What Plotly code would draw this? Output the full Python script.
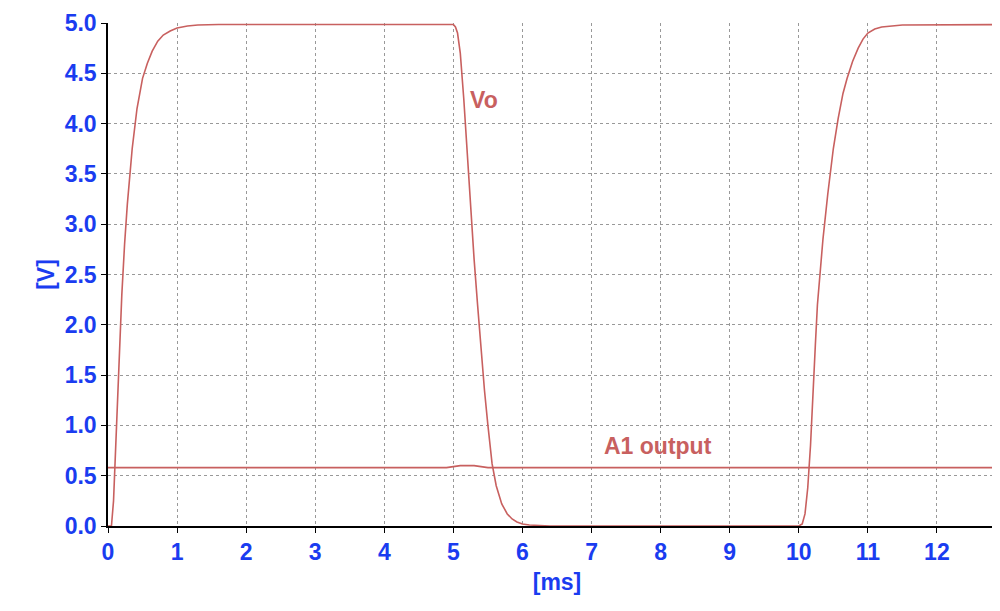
import plotly.graph_objects as go

vo_t = [0, 0.05, 0.08, 0.1, 0.13, 0.17, 0.2, 0.24, 0.28, 0.35, 0.42, 0.5, 0.57, 0.64, 0.72, 0.8, 0.9, 1.0, 1.15, 1.3, 1.6, 5.0, 5.03, 5.06, 5.1, 5.15, 5.2, 5.25, 5.3, 5.35, 5.4, 5.45, 5.5, 5.56, 5.62, 5.7, 5.78, 5.85, 5.92, 6.0, 6.1, 6.2, 6.4,
        10.0, 10.05, 10.09, 10.13, 10.17, 10.2, 10.24, 10.27, 10.31, 10.35, 10.42, 10.5, 10.57, 10.64, 10.7, 10.78, 10.86, 10.93, 11.0, 11.1, 11.2, 11.5, 13.0]
vo_v = [0, 0.0, 0.25, 0.6, 1.2, 1.8, 2.3, 2.8, 3.2, 3.75, 4.15, 4.45, 4.6, 4.72, 4.82, 4.88, 4.92, 4.95, 4.97, 4.98, 4.985, 4.985, 4.96, 4.9, 4.7, 4.25, 3.7, 3.15, 2.65, 2.2, 1.75, 1.35, 1.0, 0.62, 0.4, 0.22, 0.12, 0.07, 0.04, 0.02, 0.01, 0.005, 0,
        0, 0.02, 0.12, 0.38, 0.8, 1.3, 1.8, 2.2, 2.55, 2.85, 3.3, 3.75, 4.05, 4.3, 4.45, 4.62, 4.75, 4.84, 4.9, 4.94, 4.96, 4.98, 4.985]
a1_t = [0, 4.9, 5.0, 5.1, 5.3, 5.5, 10.0, 13.0]
a1_v = [0.58, 0.58, 0.59, 0.6, 0.6, 0.58, 0.58, 0.58]

x_ticks = list(range(0, 13))
y_ticks = [i * 0.5 for i in range(11)]

red = "#c8605f"
blue = "#1a3cf0"
fig = go.Figure()
fig.add_trace(go.Scatter(x=vo_t, y=vo_v, mode="lines", line=dict(color=red, width=1.6)))
fig.add_trace(go.Scatter(x=a1_t, y=a1_v, mode="lines", line=dict(color=red, width=1.6)))
fig.add_annotation(x=5.45, y=4.23, text="<b>Vo</b>", showarrow=False, xanchor="center",
                   font=dict(color=red, size=23, family="Liberation Sans"))
fig.add_annotation(x=7.96, y=0.8, text="<b>A1 output</b>", showarrow=False, xanchor="center",
                   font=dict(color=red, size=23, family="Liberation Sans"))
axfont = dict(color=blue, size=23, family="Liberation Sans")
fig.update_layout(
    width=1000, height=611, margin=dict(l=100, r=2, t=15, b=93),
    plot_bgcolor="white", paper_bgcolor="white", showlegend=False,
    xaxis=dict(range=[0, 13], tickvals=x_ticks, ticktext=[f"<b>{v}</b>" for v in x_ticks],
               tickfont=axfont, showgrid=True, gridcolor="#999", griddash="dot", automargin=False,
               showline=True, linecolor="black", linewidth=1.5, mirror=False,
               ticks="outside", ticklen=5, tickcolor="black", zeroline=False,
               title=dict(text="<b>[ms]</b>", font=axfont, standoff=10)),
    yaxis=dict(range=[0, 5], tickvals=y_ticks, ticktext=[f"<b>{v:.1f}</b>" for v in y_ticks],
               tickfont=axfont, showgrid=True, gridcolor="#999", griddash="dot", automargin=False,
               showline=True, linecolor="black", linewidth=1.5,
               ticks="outside", ticklen=5, tickcolor="black", zeroline=False,
               title=dict(text="<b>[V]</b>", font=axfont, standoff=4)),
)
fig.add_shape(type="line", xref="paper", yref="paper", x0=1, x1=1, y0=0, y1=1, line=dict(color="#999", width=1))
fig.write_html("out.html")
